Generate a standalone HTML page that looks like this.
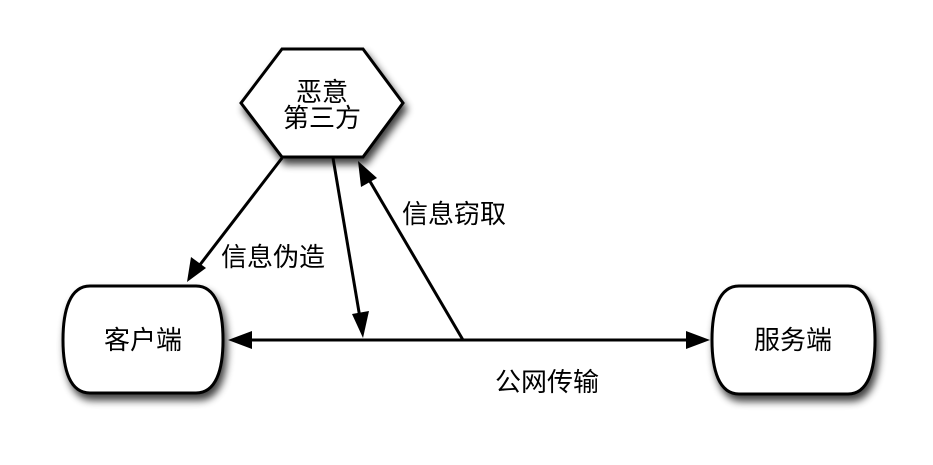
<!DOCTYPE html>
<html><head><meta charset="utf-8"><style>
html,body{margin:0;padding:0;background:#fff;}
svg{display:block;}
text{font-family:"Liberation Sans","Noto Sans CJK SC",sans-serif;font-size:26px;fill:#000;}
</style></head><body>
<svg width="933" height="465" viewBox="0 0 933 465" xmlns="http://www.w3.org/2000/svg">
<defs>
<filter id="sh" x="-20%" y="-20%" width="150%" height="150%">
<feGaussianBlur in="SourceAlpha" stdDeviation="4"/>
<feOffset dx="3" dy="6" result="b"/>
<feComponentTransfer><feFuncA type="linear" slope="0.75"/></feComponentTransfer>
<feMerge><feMergeNode/><feMergeNode in="SourceGraphic"/></feMerge>
</filter>
</defs>
<g filter="url(#sh)" fill="#fff" stroke="#000" stroke-width="3">
<polygon points="241,103 282,49 363,49 403,103 363,157 282,157"/>
<path d="M90,286 H196 C216,286 223,310 223,340 C223,370 216,393 196,393 H90 C70,393 63,370 63,340 C63,310 70,286 90,286 Z"/>
<path d="M739,286 H848 C868,286 875,310 875,340 C875,370 868,394 848,394 H739 C719,394 712,370 712,340 C712,310 719,286 739,286 Z"/>
</g>
<g stroke="#000" stroke-width="3" fill="none">
<line x1="248" y1="340" x2="690" y2="340"/>
<line x1="282" y1="158" x2="199" y2="266"/>
<line x1="333" y1="158" x2="360" y2="318"/>
<line x1="463" y1="340" x2="368" y2="178"/>
</g>
<g fill="#000">
<polygon points="228,340 252,331 252,349"/>
<polygon points="710,340 686,331 686,349"/>
<polygon points="187,282 191,257 206,268"/>
<polygon points="363,338 352,314 369,311"/>
<polygon points="358,161 377,178 361,187"/>
</g>
<text x="322" y="101" text-anchor="middle">恶意</text>
<text x="322" y="127" text-anchor="middle">第三方</text>
<text x="143" y="349" text-anchor="middle">客户端</text>
<text x="793" y="349" text-anchor="middle">服务端</text>
<text x="221" y="266">信息伪造</text>
<text x="402" y="223">信息窃取</text>
<text x="495" y="391">公网传输</text>
</svg>
</body></html>
